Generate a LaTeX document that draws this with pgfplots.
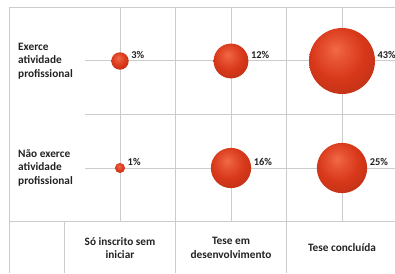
\documentclass[border=0pt]{standalone}
\usepackage{pgfplots}
\pgfplotsset{compat=1.18}
\usepackage{fontspec}
\setmainfont{Carlito}
\definecolor{gridc}{HTML}{CCCCCC}
\definecolor{txt}{HTML}{222222}
\definecolor{ballhl}{HTML}{F26A48}
\definecolor{ballbase}{HTML}{D8381A}
\definecolor{balldark}{HTML}{6E1606}
\pgfdeclareradialshading{redball}{\pgfqpoint{-5bp}{9bp}}{%
 color(0bp)=(ballhl); color(8bp)=(ballhl!55!ballbase); color(20bp)=(ballbase); color(34bp)=(ballbase!88!black); color(46bp)=(ballbase!62!black); color(58bp)=(balldark); color(75bp)=(balldark)}
\pgfdeclareplotmark{ball}{%
  \pgfpathcircle{\pgfpointorigin}{\pgfplotmarksize}%
  \pgfshadepath{redball}{0}%
  \pgfusepath{discard}%
}
\newcommand{\lbl}{\fontsize{11.3}{13.6}\selectfont\bfseries}
% bubble style: argument = radius in pt (= 5.03*sqrt(value))
\pgfplotsset{bub/.style={only marks, mark=ball, mark size=#1pt,
  point meta=explicit,
  nodes near coords={\pgfmathprintnumber[assume math mode=true]{\pgfplotspointmeta}\%},
  every node near coord/.append style={anchor=west, xshift=#1pt, yshift=6pt, inner sep=2.5pt,
    font=\fontsize{10.4}{12}\selectfont\bfseries, text=txt}}}
\begin{document}
\begin{tikzpicture}
\begin{axis}[
  width=395pt, height=273pt, scale only axis,
  xmin=-0.0811, xmax=3.4775, ymin=0.0187, ymax=2.5701,
  hide axis, clip=false,
]
\coordinate (sw) at (rel axis cs:0,0);
\coordinate (ne) at (rel axis cs:1,1);
% table / grid lines
\draw[gridc, line width=1pt] (axis cs:0,2.5) -- (axis cs:3.4775,2.5);
\draw[gridc, line width=1pt] (axis cs:0,0.5) -- (axis cs:3.4775,0.5);
\draw[gridc, line width=1pt] (axis cs:0,2.5) -- (axis cs:0,0.0187);
\draw[gridc, line width=1pt] (axis cs:0.685,2) -- (axis cs:3.4775,2);
\draw[gridc, line width=1pt] (axis cs:0.685,1.5) -- (axis cs:3.4775,1.5);
\draw[gridc, line width=1pt] (axis cs:0.685,1) -- (axis cs:3.4775,1);
\draw[gridc, line width=1pt] (axis cs:1,2.5) -- (axis cs:1,0.5);
\draw[gridc, line width=1pt] (axis cs:2,2.5) -- (axis cs:2,0.5);
\draw[gridc, line width=1pt] (axis cs:3,2.5) -- (axis cs:3,0.5);
\draw[gridc, line width=1pt] (axis cs:1.5,2.5) -- (axis cs:1.5,0.0187);
\draw[gridc, line width=1pt] (axis cs:2.5,2.5) -- (axis cs:2.5,0.0187);
\draw[gridc, line width=1pt] (axis cs:0.5,0.5) -- (axis cs:0.5,0.0187);
% bubbles: (category, row) [value in %]
\addplot[bub=8.71]  coordinates {(1,2) [3]};
\addplot[bub=17.42] coordinates {(2,2) [12]};
\addplot[bub=32.98] coordinates {(3,2) [43]};
\addplot[bub=5.03]  coordinates {(1,1) [1]};
\addplot[bub=20.12] coordinates {(2,1) [16]};
\addplot[bub=25.15] coordinates {(3,1) [25]};
% labels
\node[anchor=west, align=left, inner sep=0pt, font=\lbl, text=txt] at (axis cs:0.081,2) {Exerce\\atividade\\profissional};
\node[anchor=west, align=left, inner sep=0pt, font=\lbl, text=txt] at (axis cs:0.081,1) {Não exerce\\atividade\\profissional};
\node[align=center, inner sep=0pt, font=\lbl, text=txt] at (axis cs:1,0.252) {Só inscrito sem\\iniciar};
\node[align=center, inner sep=0pt, font=\lbl, text=txt] at (axis cs:2,0.252) {Tese em\\desenvolvimento};
\node[align=center, inner sep=0pt, font=\lbl, text=txt] at (axis cs:3,0.252) {Tese concluída};
\end{axis}
\pgfresetboundingbox
\useasboundingbox (sw) rectangle (ne);
\end{tikzpicture}
\end{document}
